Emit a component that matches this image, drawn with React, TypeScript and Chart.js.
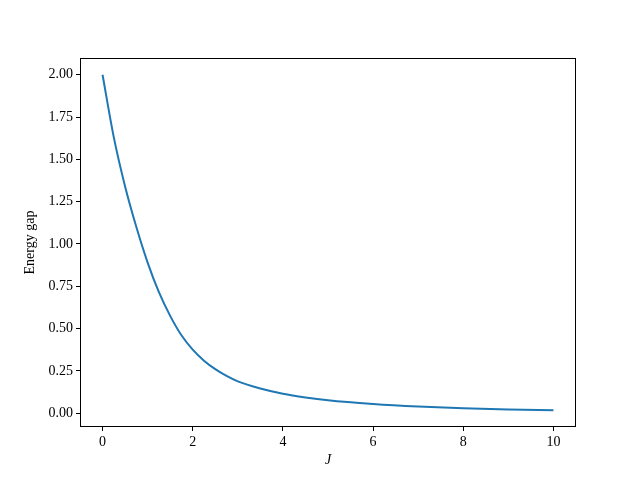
import React, { useEffect, useRef } from "react";
import { Chart, registerables } from "chart.js";

Chart.register(...registerables);

const jValues = [0, 0.25, 0.5, 0.75, 1.0, 1.25, 1.5, 1.75, 2.0, 2.25, 2.5, 2.75, 3.0, 3.5, 4.0, 4.5, 5.0, 6.0, 7.0, 8.0, 9.0, 10.0];
const gapValues = [2.0, 1.63, 1.34, 1.1, 0.89, 0.715, 0.575, 0.46, 0.375, 0.31, 0.26, 0.22, 0.188, 0.146, 0.115, 0.093, 0.076, 0.054, 0.039, 0.029, 0.022, 0.017];
const xTicks = [0, 2, 4, 6, 8, 10];
const yTicks = [0, 0.25, 0.5, 0.75, 1.0, 1.25, 1.5, 1.75, 2.0];

const FONT = "'Liberation Serif', 'Times New Roman', serif";

const framePlugin = {
  id: "frame",
  afterDraw(chart: any) {
    const { ctx, chartArea } = chart;
    ctx.save();
    ctx.strokeStyle = "#000";
    ctx.lineWidth = 1;
    ctx.strokeRect(
      Math.round(chartArea.left) + 0.5,
      Math.round(chartArea.top) + 0.5,
      Math.round(chartArea.right - chartArea.left) - 1,
      Math.round(chartArea.bottom - chartArea.top) - 1
    );
    ctx.restore();
  },
};

export default function App() {
  const ref = useRef<HTMLCanvasElement>(null);
  useEffect(() => {
    if (!ref.current) return;
    const chart = new Chart(ref.current, {
      type: "line",
      data: {
        datasets: [
          {
            data: jValues.map((x, i) => ({ x, y: gapValues[i] })),
            borderColor: "#1f77b4",
            borderWidth: 2,
            pointRadius: 0,
            fill: false,
            cubicInterpolationMode: "monotone",
          },
        ],
      },
      options: {
        responsive: false,
        animation: false,
        plugins: { legend: { display: false }, tooltip: { enabled: false } },
        layout: { padding: { left: 0, right: 64, top: 58, bottom: 0 } },
        scales: {
          x: {
            type: "linear",
            min: -0.5,
            max: 10.5,
            afterBuildTicks: (s: any) => {
              s.ticks = xTicks.map((v) => ({ value: v }));
            },
            afterFit: (s: any) => {
              s.height = 53;
            },
            grid: { drawOnChartArea: false, tickLength: 4, color: "#000", tickWidth: 1 },
            border: { display: false },
            ticks: {
              color: "#000",
              padding: 3,
              maxRotation: 0,
              font: { family: FONT, size: 14 },
              callback: (v: any) => String(v),
            },
            title: {
              display: true,
              text: "J",
              color: "#000",
              font: { family: FONT, size: 14, style: "italic" },
              padding: { top: 0, bottom: 11 },
            },
          },
          y: {
            type: "linear",
            min: -0.082,
            max: 2.099,
            afterBuildTicks: (s: any) => {
              s.ticks = yTicks.map((v) => ({ value: v }));
            },
            afterFit: (s: any) => {
              s.width = 80;
            },
            grid: { drawOnChartArea: false, tickLength: 4, color: "#000", tickWidth: 1 },
            border: { display: false },
            ticks: {
              color: "#000",
              padding: 3,
              font: { family: FONT, size: 14 },
              callback: (v: any) => Number(v).toFixed(2),
            },
            title: {
              display: true,
              text: "Energy gap",
              color: "#000",
              font: { family: FONT, size: 14 },
              padding: { top: 22, bottom: 0 },
            },
          },
        },
      },
      plugins: [framePlugin],
    });
    return () => chart.destroy();
  }, []);
  return (
    <div style={{ position: "fixed", left: 0, top: 0, width: 640, height: 480, background: "#fff" }}>
      <canvas ref={ref} width={640} height={480} />
    </div>
  );
}
